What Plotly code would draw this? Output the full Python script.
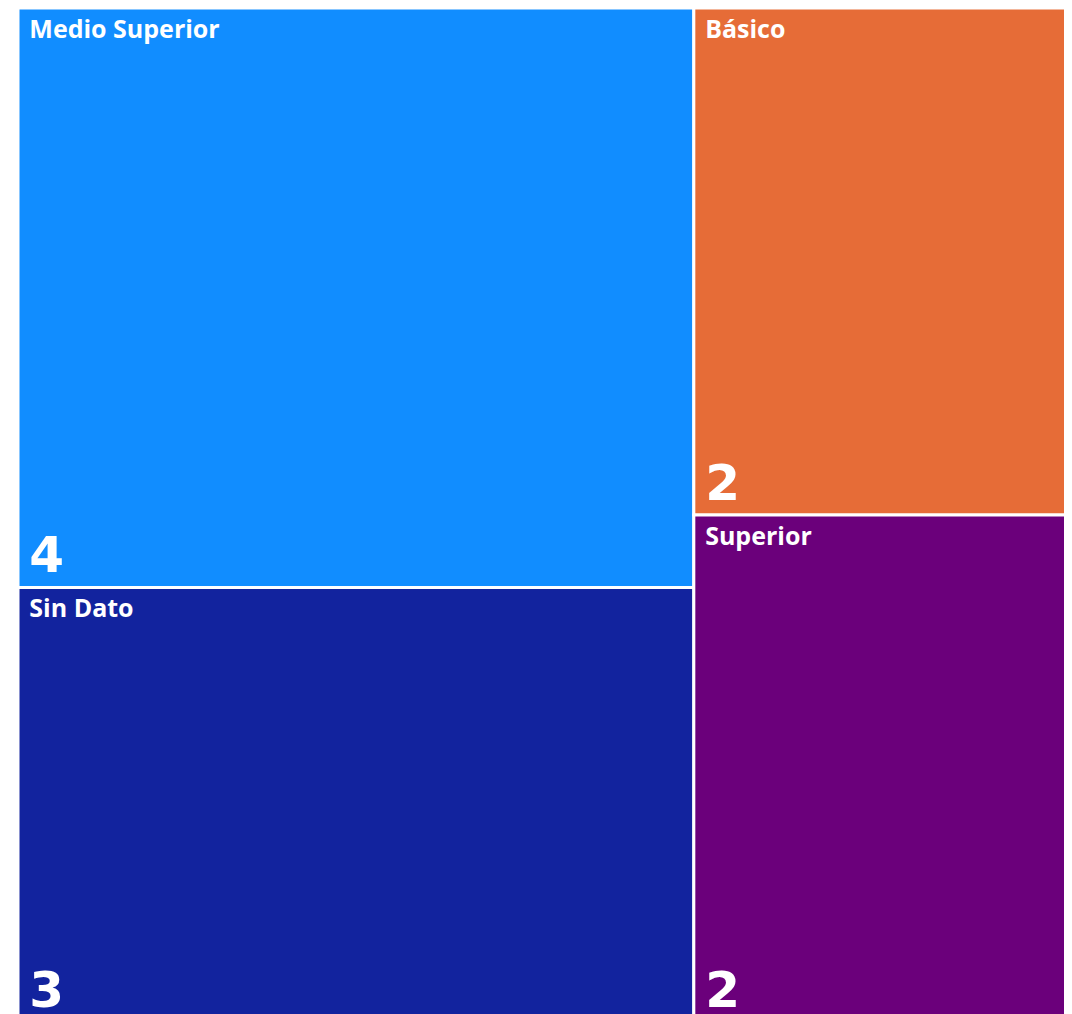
import plotly.graph_objects as go

labels = ["Medio Superior", "Sin Dato", "Básico", "Superior"]
values = [4, 3, 2, 2]
colors = ["#118DFF", "#12239E", "#E66C37", "#6B007B"]

domain = dict(x=[0, 1], y=[0, 1])
nopad = dict(t=0, l=0, r=0, b=0)

fig = go.Figure()
fig.add_trace(go.Treemap(
    labels=labels,
    parents=[""] * len(labels),
    values=values,
    sort=False,
    marker=dict(colors=colors, line=dict(color="white", width=3), pad=nopad),
    texttemplate="\u2004%{label}",
    textposition="top left",
    textfont=dict(family="Open Sans", size=25, color="white", weight="bold"),
    tiling=dict(pad=0),
    pathbar=dict(visible=False),
    domain=domain,
    hoverinfo="label+value",
))
fig.add_trace(go.Treemap(
    labels=labels,
    parents=[""] * len(labels),
    values=values,
    sort=False,
    marker=dict(colors=["rgba(0,0,0,0)"] * len(labels), line=dict(width=0), pad=nopad),
    texttemplate="\u2006%{value}",
    textposition="bottom left",
    textfont=dict(family="DejaVu Sans", size=50, color="white", weight="bold"),
    tiling=dict(pad=0),
    pathbar=dict(visible=False),
    domain=domain,
    hoverinfo="skip",
))
fig.update_layout(
    width=1072, height=1014,
    margin=dict(l=10, r=0, t=0, b=0),
    paper_bgcolor="white",
    showlegend=False,
)
fig.write_html("out.html")
